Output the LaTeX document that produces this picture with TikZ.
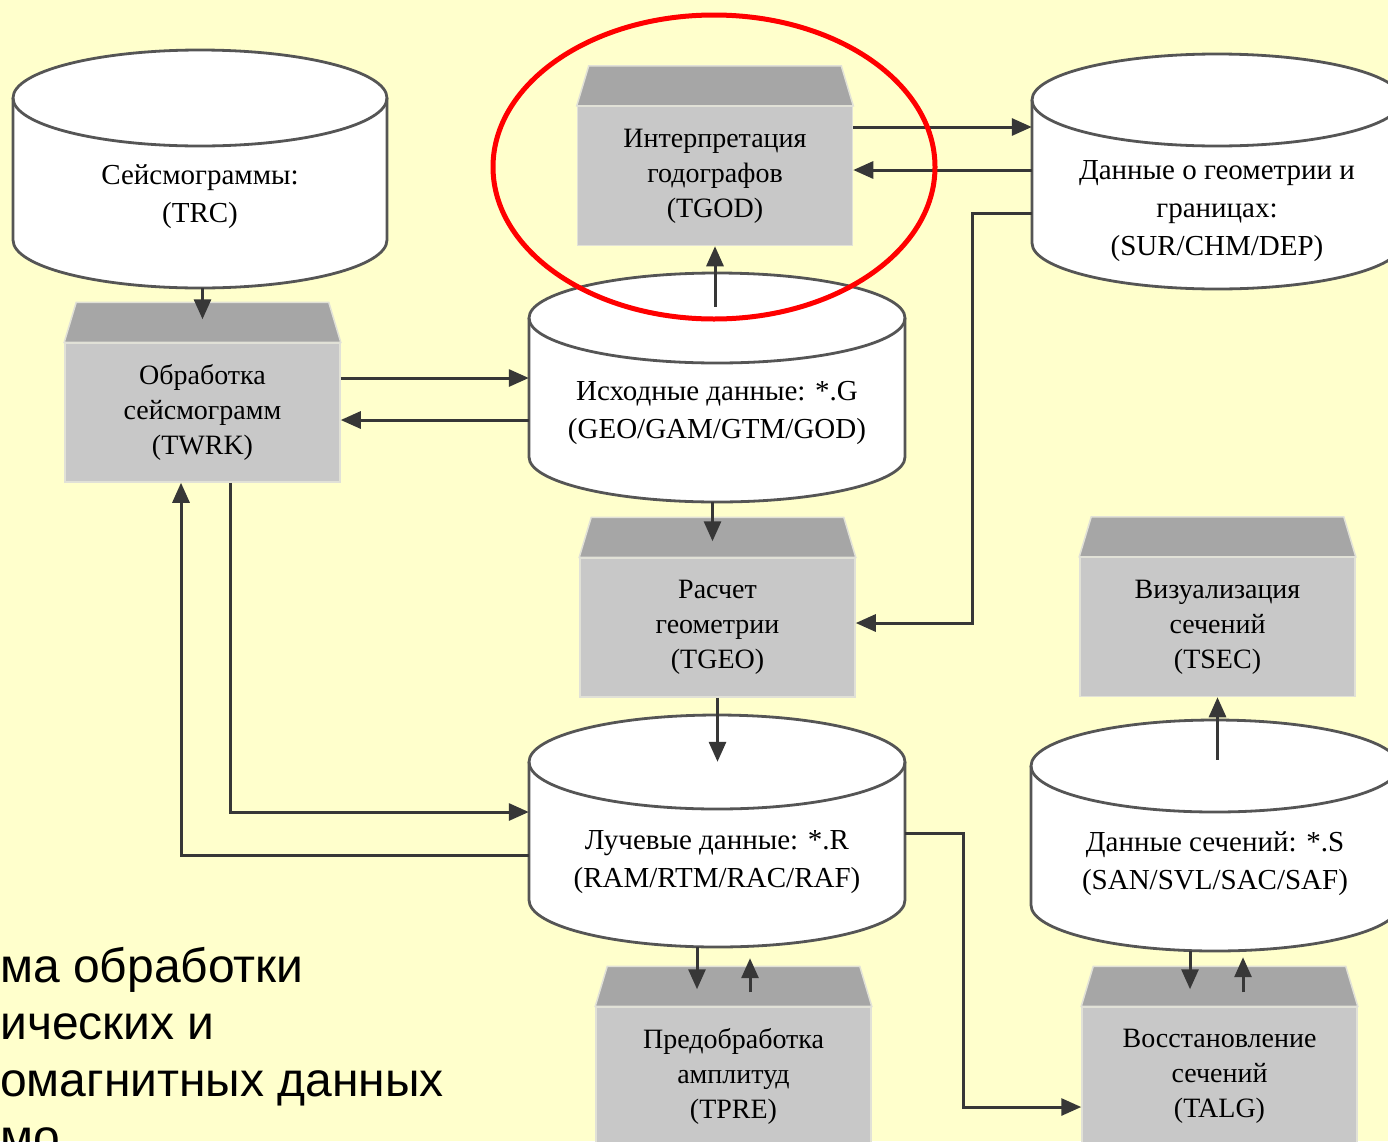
\documentclass[tikz,border=0pt]{standalone}
\usepackage{fontspec}
\setmainfont{Liberation Serif}
\newfontfamily\arialfont{Liberation Sans}
\usetikzlibrary{arrows.meta,calc,shapes.geometric}
\definecolor{bg}{RGB}{255,255,204}
\definecolor{roofc}{RGB}{166,166,166}
\definecolor{bodyc}{RGB}{200,200,200}
\definecolor{linec}{RGB}{55,55,55}
\definecolor{cyledge}{RGB}{85,85,85}
\definecolor{boxedge}{RGB}{225,225,215}

\tikzset{
  procbox/.style={rectangle, fill=bodyc, draw=boxedge, line width=1.5pt,
    minimum width=275pt, minimum height=139pt, inner sep=0pt, align=center,
    font=\fontsize{28}{35}\selectfont},
  roof/.style={fill=roofc, draw=boxedge, line width=1.5pt},
  cylbody/.style={rectangle, inner sep=0pt},
  cyltext/.style={align=center, inner sep=0pt, font=\fontsize{29}{38}\selectfont},
  cylstroke/.style={draw=cyledge, line width=2.8pt},
  arr/.style={draw=linec, line width=3pt, -{Triangle[length=20pt,width=17pt]}},
  captext/.style={anchor=base west, inner sep=0pt, font=\arialfont\fontsize{48}{57}\selectfont},
  highlight/.style={ellipse, draw=red, line width=5pt, inner sep=0pt,
    minimum width=442pt, minimum height=304pt},
}

% cylinder: name, cx, y of top ellipse centre, y of bottom ellipse centre, rx, ry
\newcommand\dbcyl[6]{%
  \fill[white] (#2-#5,#3) -- (#2-#5,#4)
    arc[start angle=180,end angle=0,x radius=#5,y radius=#6]
    -- (#2+#5,#3) arc[start angle=0,end angle=-180,x radius=#5,y radius=#6] -- cycle;
  \draw[cylstroke] (#2-#5,#3) -- (#2-#5,#4)
    arc[start angle=180,end angle=0,x radius=#5,y radius=#6] -- (#2+#5,#3);
  \draw[cylstroke] (#2,#3) ellipse[x radius=#5,y radius=#6];
  \node[cylbody, minimum width={2*#5}, minimum height={#4-#3+2*#6}] (#1) at (#2,{(#3+#4)/2}) {};
}
% process box: name, cx, cy (body centre), text
\newcommand\procnode[4]{%
  \node[procbox] (#1) at (#2,#3) {#4};
  \filldraw[roof] (#1.north west) -- ([xshift=12pt,yshift=40pt]#1.north west)
    -- ([xshift=-12pt,yshift=40pt]#1.north east) -- (#1.north east) -- cycle;
}

\begin{document}
\begin{tikzpicture}[x=1pt,y=-1pt]
\useasboundingbox (0,0) rectangle (1388,1141);
\clip (0,0) rectangle (1388,1141);
\fill[bg] (0,0) rectangle (1388,1141);

% data stores
\dbcyl{trc}{200}{98}{240}{187}{48}
\node[cyltext] (trct) at (200,197) {Сейсмограммы:\\(TRC)};
\dbcyl{geo}{1217}{100}{243}{185}{46}
\node[cyltext] (geot) at (1217,211) {Данные о геометрии и\\границах:\\(SUR/CHM/DEP)};
\dbcyl{isx}{717}{318}{457}{188}{45}
\node[cyltext] (isxt) at (717,413) {Исходные данные: *.G\\(GEO/GAM/GTM/GOD)};
\dbcyl{ray}{717}{762}{900}{188}{47}
\node[cyltext] (rayt) at (717,862) {Лучевые данные: *.R\\(RAM/RTM/RAC/RAF)};
\dbcyl{sec}{1215}{766}{905}{184}{46}
\node[cyltext] (sect) at (1215,864) {Данные сечений: *.S\\(SAN/SVL/SAC/SAF)};

% processes
\procnode{tgod}{715}{176}{Интерпретация\\годографов\\(TGOD)}
\procnode{twrk}{202.5}{412.5}{Обработка\\сейсмограмм\\(TWRK)}
\procnode{tgeo}{717.5}{627.5}{Расчет\\геометрии\\(TGEO)}
\procnode{tsec}{1217.5}{627}{Визуализация\\сечений\\(TSEC)}
\procnode{tpre}{733.5}{1076.5}{Предобработка\\амплитуд\\(TPRE)}
\procnode{talg}{1219.5}{1076.5}{Восстановление\\сечений\\(TALG)}

% connectors
\draw[arr] (trc.south -| twrk.north) -- ([yshift=23pt]twrk.north);

\coordinate (w1) at ([yshift=34.5pt]twrk.east);
\draw[arr] (w1) -- (w1 -| isx.west);
\coordinate (w2) at ([yshift=-7.5pt]twrk.east);
\draw[arr] (w2 -| isx.west) -- (w2);

\coordinate (i1) at ([yshift=-34pt]isx.north);
\draw[arr] (i1 -| tgod.south) -- (tgod.south);

\coordinate (g1) at ([yshift=49pt]tgod.east);
\draw[arr] (g1) -- (g1 -| geo.west);
\coordinate (g2) at ([yshift=6pt]tgod.east);
\draw[arr] (g2 -| geo.west) -- (g2);

\coordinate (g3) at ([yshift=-41.5pt]geo.west);
\coordinate (t1) at ([yshift=4.5pt]tgeo.east);
\coordinate (k1) at (972,0);
\draw[arr] (g3) -- (g3 -| k1) -- (k1 |- t1) -- (t1);

\coordinate (t2) at ([xshift=-5pt,yshift=16pt]tgeo.north);
\draw[arr] (isx.south -| t2) -- (t2);

\coordinate (r0) at ([yshift=-47pt]ray.north);
\draw[arr] (tgeo.south) -- (tgeo.south |- r0);

\coordinate (b1) at ([xshift=27.5pt]twrk.south);
\coordinate (r1) at ([yshift=19pt]ray.west);
\draw[arr] (b1) |- (r1);

\coordinate (b2) at ([xshift=-21.5pt]twrk.south);
\coordinate (r2) at ([yshift=-24pt]ray.west);
\draw[arr] (r2) -| (b2);

\coordinate (r3) at ([yshift=-2pt]ray.east);
\coordinate (t3) at ([yshift=-30.5pt]talg.west);
\coordinate (k2) at (963,0);
\draw[arr] (r3) -- (r3 -| k2) -- (k2 |- t3) -- (t3);

\coordinate (p1) at ([xshift=-36.5pt,yshift=17pt]tpre.north);
\draw[arr] (p1 |- ray.south) -- (p1);
\coordinate (p2) at ([xshift=16.5pt,yshift=14pt]tpre.north);
\coordinate (p3) at ([yshift=-11pt]ray.south);
\draw[arr] (p2) -- (p2 |- p3);

\coordinate (q1) at ([xshift=-29.5pt,yshift=17pt]talg.north);
\draw[arr] (q1 |- sec.south) -- (q1);
\coordinate (q2) at ([xshift=23.5pt,yshift=14pt]talg.north);
\coordinate (q3) at ([yshift=-6pt]sec.south);
\draw[arr] (q2) -- (q2 |- q3);

\coordinate (s1) at ([yshift=-40pt]sec.north);
\draw[arr] (s1 -| tsec.south) -- (tsec.south);

% highlight
\node[highlight] (hl) at (714,167) {};

% caption fragment
\node[captext] (cap1) at (0,982) {ма обработки};
\node[captext] (cap2) at (0,1039) {ических и};
\node[captext] (cap3) at (0,1096) {омагнитных данных};
\node[captext] (cap4) at (0,1153) {мо};
\end{tikzpicture}
\end{document}
